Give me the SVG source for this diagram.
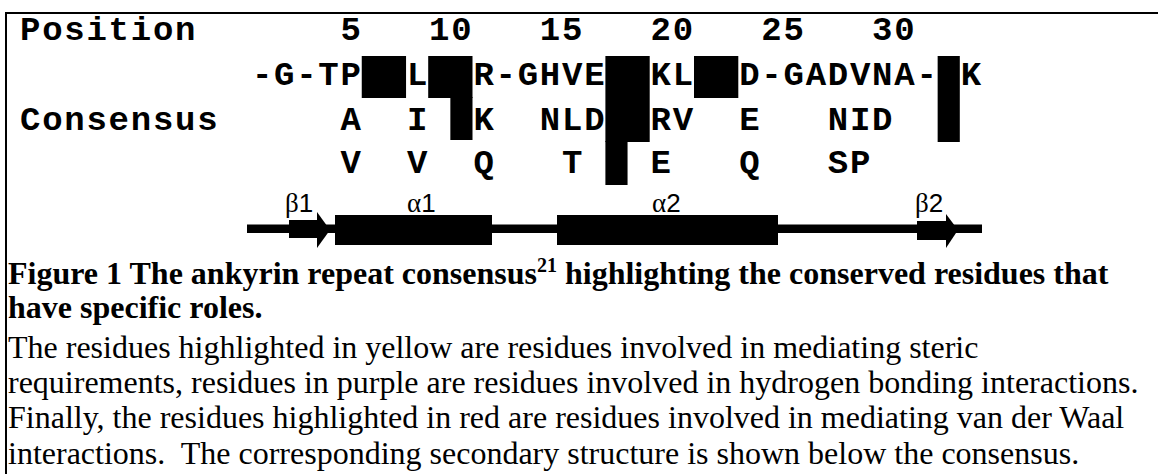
<svg xmlns="http://www.w3.org/2000/svg" width="1158" height="474" viewBox="0 0 1158 474">
<style>
.m{font-family:"Liberation Mono",monospace;font-weight:bold;font-size:34px;letter-spacing:1.75px;fill:#000}
.sg{font-family:"Liberation Serif",serif;font-size:27px;fill:#000}
.sd{font-family:"Liberation Sans",sans-serif;font-size:26px;fill:#000}
.cb{font-family:"Liberation Serif",serif;font-weight:bold;font-size:32px;fill:#000}
.cr{font-family:"Liberation Serif",serif;font-size:32px;fill:#000}
.blk{fill:#000}
</style>
<rect x="0" y="0" width="1158" height="474" fill="#fff"/>
<g id="frame">
<line x1="6" y1="13" x2="1158" y2="13" stroke="#000" stroke-width="2"/>
<line x1="6" y1="12" x2="6" y2="474" stroke="#000" stroke-width="2"/>
</g>
<g id="position-row">
<text class="m" x="20" y="40">Position</text>
<text class="m" x="340.5" y="40">5</text>
<text class="m" x="429.1" y="40">10</text>
<text class="m" x="539.85" y="40">15</text>
<text class="m" x="650.6" y="40">20</text>
<text class="m" x="761.35" y="40">25</text>
<text class="m" x="872.1" y="40">30</text>
</g>
<g id="sequence-row">
<text class="m" x="251.9" y="85">-G-TP</text>
<text class="m" x="406.9" y="85">L</text>
<text class="m" x="473.4" y="85">R-GHVE</text>
<text class="m" x="650.6" y="85">KL</text>
<text class="m" x="739.2" y="85">D-GADVNA-</text>
<text class="m" x="960.7" y="85">K</text>
</g>
<g id="consensus-row">
<text class="m" x="20" y="130">Consensus</text>
<text class="m" x="340.5" y="130">A</text>
<text class="m" x="406.9" y="130">I</text>
<text class="m" x="473.4" y="130">K</text>
<text class="m" x="539.85" y="130">NLD</text>
<text class="m" x="650.6" y="130">RV</text>
<text class="m" x="739.2" y="130">E</text>
<text class="m" x="827.8" y="130">NID</text>
</g>
<g id="variant-row">
<text class="m" x="340.5" y="173">V</text>
<text class="m" x="406.9" y="173">V</text>
<text class="m" x="473.4" y="173">Q</text>
<text class="m" x="562" y="173">T</text>
<text class="m" x="650.6" y="173">E</text>
<text class="m" x="739.2" y="173">Q</text>
<text class="m" x="827.8" y="173">SP</text>
</g>
<g id="highlight-boxes">
<rect class="blk" x="361.75" y="56" width="44.3" height="42"/>
<rect class="blk" x="428.2" y="56" width="44.3" height="42"/>
<rect class="blk" x="450.35" y="97" width="22.15" height="43"/>
<rect class="blk" x="605.4" y="56" width="44.3" height="86"/>
<rect class="blk" x="605.4" y="141" width="22.15" height="44"/>
<rect class="blk" x="694" y="56" width="44.3" height="42"/>
<rect class="blk" x="937.65" y="56" width="22.15" height="86"/>
</g>
<g id="secondary-structure">
<rect class="blk" x="247" y="224.5" width="735" height="8.5"/>
<rect class="blk" x="289" y="220" width="30" height="18"/>
<polygon class="blk" points="317,212 330,230 317,248"/>
<rect class="blk" x="335" y="215" width="157" height="30"/>
<rect class="blk" x="557" y="215" width="221" height="30"/>
<rect class="blk" x="917" y="221" width="31" height="19"/>
<polygon class="blk" points="946,214 958,230 946,248"/>
<text x="285" y="212"><tspan class="sg">β</tspan><tspan class="sd">1</tspan></text>
<text x="407" y="212"><tspan class="sg">α</tspan><tspan class="sd">1</tspan></text>
<text x="652" y="212"><tspan class="sg">α</tspan><tspan class="sd">2</tspan></text>
<text x="915" y="212"><tspan class="sg">β</tspan><tspan class="sd">2</tspan></text>
</g>
<g id="caption">
<text class="cb" x="8" y="284">Figure 1 The ankyrin repeat consensus<tspan font-size="20" dy="-12">21</tspan><tspan dy="12"> highlighting the conserved residues that</tspan></text>
<text class="cb" x="8" y="318">have specific roles.</text>
<text class="cr" x="8" y="358">The residues highlighted in yellow are residues involved in mediating steric</text>
<text class="cr" x="8" y="393">requirements, residues in purple are residues involved in hydrogen bonding interactions.</text>
<text class="cr" x="8" y="428">Finally, the residues highlighted in red are residues involved in mediating van der Waal</text>
<text class="cr" x="8" y="464" xml:space="preserve">interactions.  The corresponding secondary structure is shown below the consensus.</text>
</g>
</svg>
